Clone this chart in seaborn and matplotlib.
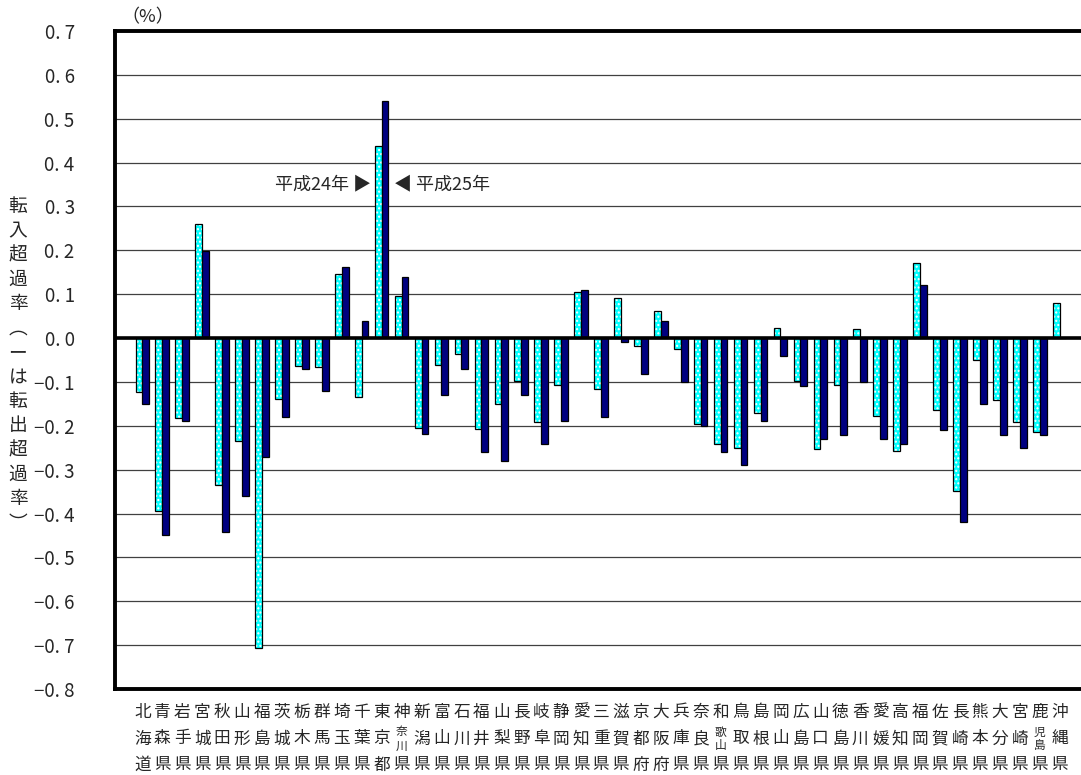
import matplotlib
matplotlib.use("Agg")
import matplotlib.pyplot as plt
import matplotlib.transforms as mtransforms
import seaborn as sns
import pandas as pd

# prefectures, north to south order as in the source table
prefs = ["北海道", "青森県", "岩手県", "宮城県", "秋田県", "山形県", "福島県",
         "茨城県", "栃木県", "群馬県", "埼玉県", "千葉県", "東京都", "神奈川県",
         "新潟県", "富山県", "石川県", "福井県", "山梨県", "長野県", "岐阜県",
         "静岡県", "愛知県", "三重県", "滋賀県", "京都府", "大阪府", "兵庫県",
         "奈良県", "和歌山県", "鳥取県", "島根県", "岡山県", "広島県", "山口県",
         "徳島県", "香川県", "愛媛県", "高知県", "福岡県", "佐賀県", "長崎県",
         "熊本県", "大分県", "宮崎県", "鹿児島県", "沖縄県"]

# net in-migration rate (%)
h24 = [-0.123, -0.394, -0.182, 0.261, -0.335, -0.235, -0.707,
       -0.140, -0.064, -0.065, 0.145, -0.134, 0.438, 0.097,
       -0.205, -0.061, -0.036, -0.207, -0.151, -0.097, -0.192,
       -0.107, 0.105, -0.115, 0.091, -0.017, 0.061, -0.024,
       -0.195, -0.242, -0.251, -0.170, 0.022, -0.099, -0.254,
       -0.107, 0.020, -0.178, -0.258, 0.172, -0.163, -0.349,
       -0.051, -0.141, -0.192, -0.213, 0.080]
h25 = [-0.150, -0.449, -0.189, 0.199, -0.441, -0.360, -0.270,
       -0.179, -0.070, -0.120, 0.161, 0.040, 0.540, 0.140,
       -0.219, -0.130, -0.071, -0.259, -0.280, -0.130, -0.242,
       -0.190, 0.110, -0.179, -0.010, -0.081, 0.039, -0.101,
       -0.200, -0.259, -0.290, -0.189, -0.040, -0.110, -0.229,
       -0.220, -0.101, -0.229, -0.241, 0.120, -0.210, -0.420,
       -0.150, -0.220, -0.250, -0.220, 0.000]
years = ["平成24年", "平成25年"]
yticks = [0.7, 0.6, 0.5, 0.4, 0.3, 0.2, 0.1, 0.0,
          -0.1, -0.2, -0.3, -0.4, -0.5, -0.6, -0.7, -0.8]
ylabel = "転入超過率︵ーは転出超過率︶"

sns.set_theme(style="white")
plt.rcParams['font.family'] = ['Noto Sans CJK JP', 'DejaVu Sans']
plt.rcParams['hatch.linewidth'] = 1.0

df = pd.DataFrame({
    "pref": prefs * 2,
    "rate": h24 + h25,
    "year": [years[0]] * len(prefs) + [years[1]] * len(prefs),
})

W, H = 1081, 775
fig = plt.figure(figsize=(W / 100, H / 100), dpi=100)
ax = fig.add_axes([115 / W, 1 - 689 / H, 972 / W, 658 / H])

sns.barplot(data=df, x="pref", y="rate", hue="year",
            palette=["#00FFFF", "#000080"], width=0.68, saturation=1,
            edgecolor="black", linewidth=0.9, errorbar=None,
            legend=False, ax=ax)

# dotted texture on the first series (white dots on cyan)
for p in ax.patches[:len(prefs)]:
    p.set_hatch("....")
    p._hatch_color = (1, 1, 1, 1)

ax.set_xlim(-1.37, len(prefs) - 1 + 1.37)
ax.set_ylim(-0.8, 0.7)
ax.set_yticks(yticks)
ax.set_yticklabels([("−" if v < 0 else "") + f"{abs(v):.1f}".replace(".", ". ")
                    for v in yticks], fontsize=13.5)
ax.tick_params(axis="y", length=0, pad=29)
ax.set_xticks([])
ax.set_xlabel("")
ax.set_ylabel("")
ax.yaxis.grid(True, color="#404040", linewidth=0.9)
ax.set_axisbelow(True)
ax.axhline(0, color="black", linewidth=2.6, zorder=3)
for s in ["left", "top", "bottom"]:
    ax.spines[s].set_linewidth(2.8)
    ax.spines[s].set_color("black")
ax.spines["right"].set_visible(False)

# category labels written top to bottom
tr = mtransforms.blended_transform_factory(ax.transData, fig.transFigure)
rows = [712, 739, 765]
for i, name in enumerate(prefs):
    if len(name) == 3:
        for ch, yy in zip(name, rows):
            ax.text(i, 1 - yy / H, ch, transform=tr, ha="center", va="center",
                    fontsize=12, clip_on=False)
    else:
        ax.text(i, 1 - rows[0] / H, name[0], transform=tr, ha="center",
                va="center", fontsize=12, clip_on=False)
        ax.text(i, 1 - (rows[1] - 7) / H, name[1], transform=tr, ha="center",
                va="center", fontsize=8.5, clip_on=False)
        ax.text(i, 1 - (rows[1] + 7) / H, name[2], transform=tr, ha="center",
                va="center", fontsize=8.5, clip_on=False)
        ax.text(i, 1 - rows[2] / H, name[3], transform=tr, ha="center",
                va="center", fontsize=12, clip_on=False)

# vertical axis title
tr2 = mtransforms.blended_transform_factory(fig.transFigure, ax.transData)
for k, ch in enumerate(ylabel):
    ax.text(18 / W, 0.3 - k * 0.0555, ch, transform=tr2, ha="center",
            va="center", fontsize=13.5, clip_on=False)

fig.text(121 / W, 1 - 17 / H, "（%）", ha="left", va="center", fontsize=13)

ax.text(11.45, 0.35, years[0] + " ▶", ha="right", va="center", fontsize=13)
ax.text(12.6, 0.35, "◀ " + years[1], ha="left", va="center", fontsize=13)

fig.savefig("out.png", dpi=100)
